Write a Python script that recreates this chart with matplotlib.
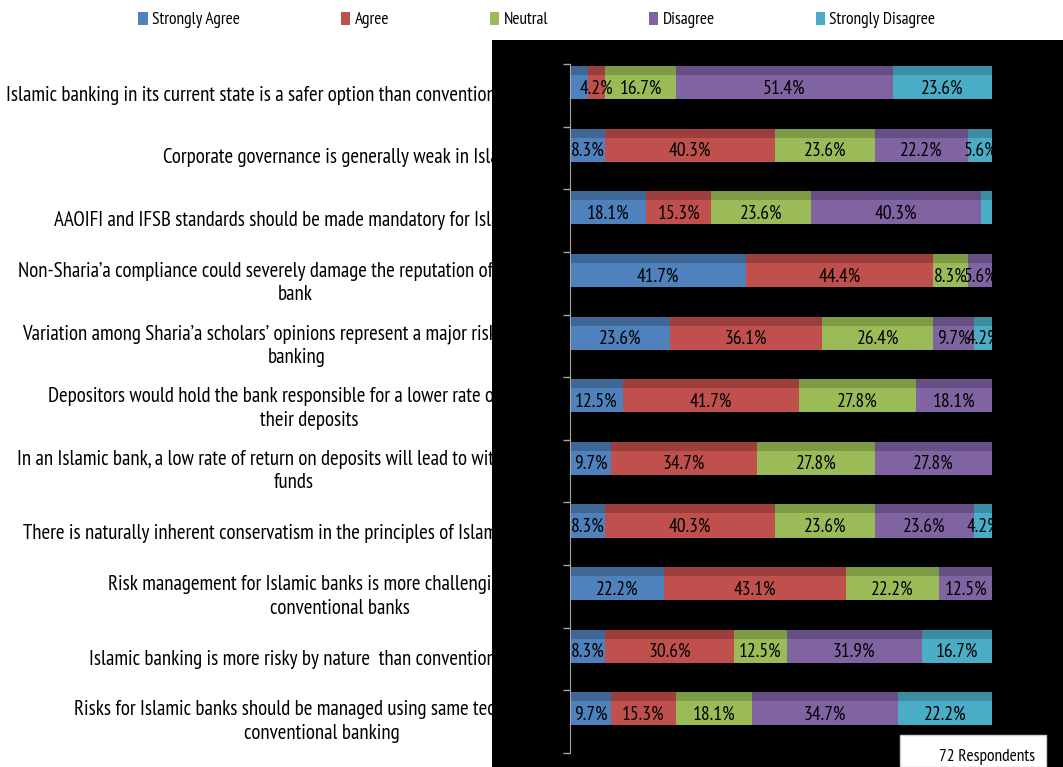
import numpy as np
import matplotlib
matplotlib.use('Agg')
import matplotlib.pyplot as plt
from matplotlib.patches import Rectangle, Patch
from matplotlib import transforms

plt.rcParams['font.family'] = ['PT Sans Narrow', 'DejaVu Sans']

# survey statements (top to bottom), the right part is hidden behind the dark panel
statements = [
    'Islamic banking in its current state is a safer option than conventional banking',
    'Corporate governance is generally weak in Islamic banks',
    'AAOIFI and IFSB standards should be made mandatory for Islamic banks',
    'Non-Sharia\u2019a compliance could severely damage the reputation of an Islamic\nbank',
    'Variation among Sharia\u2019a scholars\u2019 opinions represent a major risk to Islamic\nbanking',
    'Depositors would hold the bank responsible for a lower rate of return on\ntheir deposits',
    'In an Islamic bank, a low rate of return on deposits will lead to withdrawal of\nfunds',
    'There is naturally inherent conservatism in the principles of Islamic banking',
    'Risk management for Islamic banks is more challenging than for\nconventional banks',
    'Islamic banking is more risky by nature  than conventional banking',
    'Risks for Islamic banks should be managed using same techniques as\nconventional banking',
]

answers = ['Strongly Agree', 'Agree', 'Neutral', 'Disagree', 'Strongly Disagree']

strongly_agree = [4.2, 8.3, 18.1, 41.7, 23.6, 12.5, 9.7, 8.3, 22.2, 8.3, 9.7]
agree = [4.2, 40.3, 15.3, 44.4, 36.1, 41.7, 34.7, 40.3, 43.1, 30.6, 15.3]
neutral = [16.7, 23.6, 23.6, 8.3, 26.4, 27.8, 27.8, 23.6, 22.2, 12.5, 18.1]
disagree = [51.4, 22.2, 40.3, 5.6, 9.7, 18.1, 27.8, 23.6, 12.5, 31.9, 34.7]
strongly_disagree = [23.6, 5.6, 2.8, 0.0, 4.2, 0.0, 0.0, 4.2, 0.0, 16.7, 22.2]

# labels that are not shown in the original (row, answer)
hidden_labels = [(0, 0), (2, 4)]

respondents = 72

colors = ['#4F81BD', '#C0504D', '#9BBB59', '#8064A2', '#4BACC6']
tops = ['#3E6796', '#9C3E3C', '#7D9A45', '#674F86', '#3A8DA3']

W, H = 1063, 767
fig = plt.figure(figsize=(W / 100, H / 100), dpi=100)
fig.patch.set_facecolor('white')

ax = fig.add_axes([570 / W, (H - 753) / H, (992 - 570) / W, (753 - 64) / H])
ax.set_zorder(3)
ax.set_facecolor('black')

# dark chart panel (covers the right end of the statements)
fig.patches.append(Rectangle((492 / W, 0), (W - 492) / W, (H - 40) / H,
                             transform=fig.transFigure, facecolor='black',
                             edgecolor='none', zorder=2))

series = np.array([strongly_agree, agree, neutral, disagree, strongly_disagree])
n = len(statements)
left = np.zeros(n)
for k in range(len(answers)):
    vals = series[k]
    ax.barh(np.arange(n) + 0.032, vals, left=left, height=0.528, align='edge',
            color=colors[k], edgecolor='none', label=answers[k])
    ax.barh(np.arange(n) + 0.032, vals, left=left, height=0.144, align='edge',
            color=tops[k], edgecolor='none')
    for i in range(n):
        if vals[i] <= 0 or (i, k) in hidden_labels:
            continue
        ax.text(left[i] + vals[i] / 2, i + 0.39, '{:.1f}%'.format(vals[i]),
                ha='center', va='center', fontsize=14, color='black', clip_on=True)
    left += vals

ax.set_xlim(0, 100)
ax.set_ylim(n, 0)
ax.set_xticks([])
ax.set_yticks(np.arange(n + 1))
ax.set_yticklabels([])
ax.tick_params(axis='y', length=5, color='#a6a6a6', width=1)
for s in ['top', 'right', 'bottom']:
    ax.spines[s].set_visible(False)
ax.spines['left'].set_color('#a6a6a6')

# statements, drawn behind the dark panel
trans = transforms.blended_transform_factory(fig.transFigure, ax.transData)
for i, s in enumerate(statements):
    fig.text(571 / W, i + 0.5, s, transform=trans, ha='right', va='center',
             multialignment='center', fontsize=15, color='black', zorder=1,
             linespacing=1.3)

handles = [Patch(facecolor=c, edgecolor='none') for c in colors]
fig.legend(handles, answers, loc='center', bbox_to_anchor=(0.505, 1 - 20 / H), ncol=5,
           frameon=False, fontsize=12.5, handlelength=0.55, handleheight=0.75,
           handletextpad=0.25, columnspacing=5.8)

# respondents box
fig.patches.append(Rectangle((900 / W, 0), 146 / W, (H - 735) / H,
                             transform=fig.transFigure, facecolor='white',
                             edgecolor='#d0d0d0', linewidth=1, zorder=4))
fig.text(1035 / W, (H - 757) / H, '{} Respondents'.format(respondents),
         ha='right', va='center', fontsize=12.5, color='black', zorder=5)

fig.savefig('out.png', dpi=100)
